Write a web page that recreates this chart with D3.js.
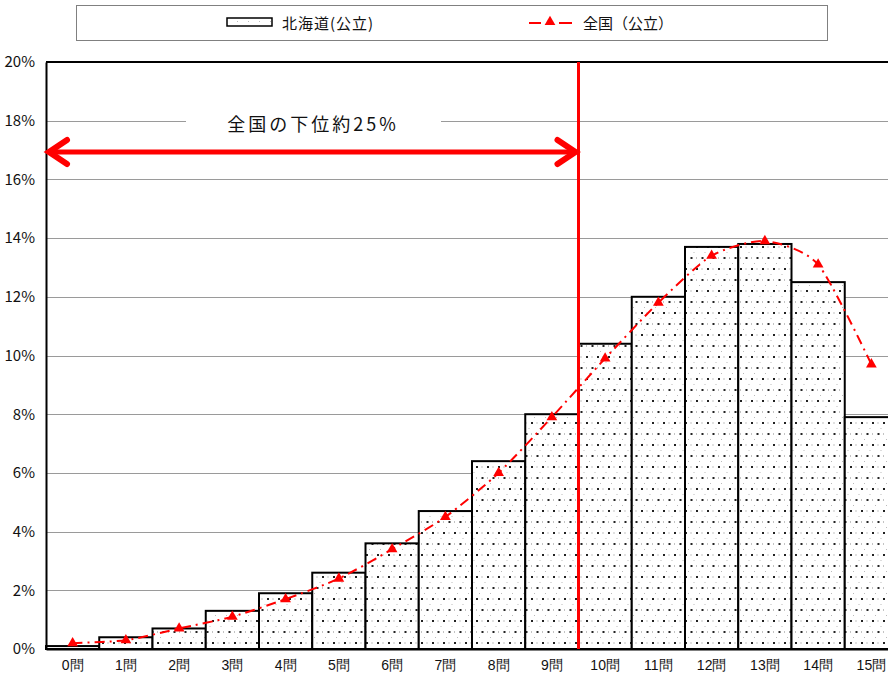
<!DOCTYPE html>
<html>
<head>
<meta charset="utf-8">
<script src="https://cdn.jsdelivr.net/npm/d3@7"></script>
<style>
  html, body { margin: 0; padding: 0; background: #fff; }
  svg { display: block; font-family: "Noto Sans CJK JP", "Noto Sans", sans-serif; }
</style>
</head>
<body>
<svg id="chart" width="888" height="677"></svg>
<script>
// Number of correct answers (0–15問)
const categories = ["0問","1問","2問","3問","4問","5問","6問","7問","8問","9問","10問","11問","12問","13問","14問","15問"];
// 北海道(公立) share of students, %
const hokkaido = [0.1, 0.4, 0.7, 1.3, 1.9, 2.6, 3.6, 4.7, 6.4, 8.0, 10.4, 12.0, 13.7, 13.8, 12.5, 7.9];
// 全国(公立) share of students, %
const national = [0.2, 0.3, 0.7, 1.1, 1.7, 2.4, 3.4, 4.5, 6.0, 7.9, 9.9, 11.8, 13.4, 13.9, 13.1, 9.7];
const yTicks = [0, 2, 4, 6, 8, 10, 12, 14, 16, 18, 20];
const legendLabels = ["北海道(公立)", "全国（公立）"];
const noteText = "全国の下位約25%";
const cutoffIndex = 10; // boundary between 9問 and 10問

const svg = d3.select("#chart");
const plotLeft = 46, plotTop = 62, plotBottom = 649, band = 53.25;

const x = d3.scaleBand().domain(categories).range([plotLeft, plotLeft + band * categories.length]).padding(0);
const y = d3.scaleLinear().domain([0, 20]).range([plotBottom, plotTop]);

// dotted fill for the bars
const defs = svg.append("defs");
const pat = defs.append("pattern").attr("id", "dots").attr("patternUnits", "userSpaceOnUse")
  .attr("width", 11).attr("height", 22);
pat.append("rect").attr("width", 11).attr("height", 22).attr("fill", "#fff");
pat.append("rect").attr("x", 3).attr("y", 4).attr("width", 2).attr("height", 2).attr("fill", "#222");
pat.append("rect").attr("x", 8.5).attr("y", 15).attr("width", 2).attr("height", 2).attr("fill", "#222");
pat.append("rect").attr("x", 8.5).attr("y", 4.5).attr("width", 1).attr("height", 1).attr("fill", "#888");
pat.append("rect").attr("x", 3).attr("y", 15.5).attr("width", 1).attr("height", 1).attr("fill", "#888");
pat.append("rect").attr("x", 0.5).attr("y", 10).attr("width", 1).attr("height", 1).attr("fill", "#bbb");
pat.append("rect").attr("x", 6).attr("y", 21).attr("width", 1).attr("height", 1).attr("fill", "#bbb");

// gridlines
svg.append("g").selectAll("line").data(yTicks.filter(d => d > 0 && d < 20)).join("line")
  .attr("x1", plotLeft).attr("x2", 888)
  .attr("y1", d => Math.round(y(d)) + 0.5).attr("y2", d => Math.round(y(d)) + 0.5)
  .attr("stroke", "#9a9a9a").attr("stroke-width", 1);

// plot frame top
svg.append("line").attr("x1", plotLeft).attr("x2", 888).attr("y1", y(20)).attr("y2", y(20))
  .attr("stroke", "#000").attr("stroke-width", 2);

// bars
svg.append("g").selectAll("rect").data(hokkaido).join("rect")
  .attr("x", (d, i) => x(categories[i]))
  .attr("y", d => y(d))
  .attr("width", x.bandwidth())
  .attr("height", d => plotBottom - y(d))
  .attr("fill", "url(#dots)")
  .attr("stroke", "#000").attr("stroke-width", 2);

// y axis
const yAxis = d3.axisLeft(y).tickValues(yTicks).tickSize(0).tickPadding(11).tickFormat(d => d + "%");
const yg = svg.append("g").attr("transform", `translate(${plotLeft},0)`).call(yAxis);
yg.select(".domain").attr("stroke", "#000").attr("stroke-width", 2);
yg.selectAll("text").attr("font-size", 15).attr("fill", "#111")
  .attr("font-family", "'Liberation Sans Narrow', 'Noto Sans CJK JP', sans-serif");

// x axis
const xAxis = d3.axisBottom(x).tickSize(0).tickPadding(11);
const xg = svg.append("g").attr("transform", `translate(0,${plotBottom})`).call(xAxis);
xg.select(".domain").attr("stroke", "#000").attr("stroke-width", 2);
xg.selectAll("text").attr("font-size", 14).attr("fill", "#111");

// cutoff line
const cx = x(categories[cutoffIndex]);
svg.append("line").attr("x1", cx).attr("x2", cx).attr("y1", plotTop).attr("y2", plotBottom)
  .attr("stroke", "#ff0000").attr("stroke-width", 3);

// national line (smoothed, dash-dot)
const px = (d, i) => x(categories[i]) + x.bandwidth() / 2;
const line = d3.line().x(px).y(d => y(d)).curve(d3.curveCardinal.tension(0.3));
svg.append("path").datum(national).attr("d", line)
  .attr("fill", "none").attr("stroke", "#ff0000").attr("stroke-width", 2)
  .attr("stroke-dasharray", "10,5,2,5");
const tri = d3.symbol().type(d3.symbolTriangle).size(50);
svg.append("g").selectAll("path").data(national).join("path")
  .attr("d", tri)
  .attr("transform", (d, i) => `translate(${px(d, i)},${y(d)})`)
  .attr("fill", "#ff0000");

// annotation: text label with white backing over gridline
svg.append("rect").attr("x", 186).attr("y", 108).attr("width", 255).attr("height", 26).attr("fill", "#fff");
svg.append("text").attr("x", 313).attr("y", 131).attr("text-anchor", "middle")
  .attr("font-size", 18).attr("letter-spacing", 3).attr("fill", "#111").text(noteText);

// double-headed arrow
const ay = 152, ax1 = plotLeft + 3, ax2 = cx - 3;
svg.append("line").attr("x1", ax1 + 2).attr("x2", ax2 - 2).attr("y1", ay).attr("y2", ay)
  .attr("stroke", "#ff0000").attr("stroke-width", 5);
const head = (tipX, dir) => `M${tipX + dir * 18},${ay - 12} L${tipX},${ay} L${tipX + dir * 18},${ay + 12}`;
svg.append("path").attr("d", head(ax1, 1)).attr("fill", "none").attr("stroke", "#ff0000")
  .attr("stroke-width", 6).attr("stroke-linecap", "round").attr("stroke-linejoin", "miter");
svg.append("path").attr("d", head(ax2, -1)).attr("fill", "none").attr("stroke", "#ff0000")
  .attr("stroke-width", 6).attr("stroke-linecap", "round").attr("stroke-linejoin", "miter");

// legend
const lg = svg.append("g");
lg.append("rect").attr("x", 76.5).attr("y", 5.5).attr("width", 751).attr("height", 35)
  .attr("fill", "#fff").attr("stroke", "#808080").attr("stroke-width", 1);
lg.append("rect").attr("x", 227).attr("y", 18).attr("width", 45).attr("height", 8)
  .attr("fill", "url(#dots)").attr("stroke", "#000").attr("stroke-width", 1.5);
lg.append("text").attr("x", 282).attr("y", 29).attr("font-size", 15).attr("letter-spacing", 1)
  .attr("fill", "#111").text(legendLabels[0]);
lg.append("line").attr("x1", 529).attr("x2", 541).attr("y1", 23).attr("y2", 23)
  .attr("stroke", "#ff0000").attr("stroke-width", 2);
lg.append("line").attr("x1", 559).attr("x2", 572).attr("y1", 23).attr("y2", 23)
  .attr("stroke", "#ff0000").attr("stroke-width", 2);
lg.append("path").attr("d", tri).attr("transform", "translate(550,22)").attr("fill", "#ff0000");
lg.append("text").attr("x", 583).attr("y", 29).attr("font-size", 15).attr("fill", "#111").text(legendLabels[1]);
</script>
</body>
</html>
